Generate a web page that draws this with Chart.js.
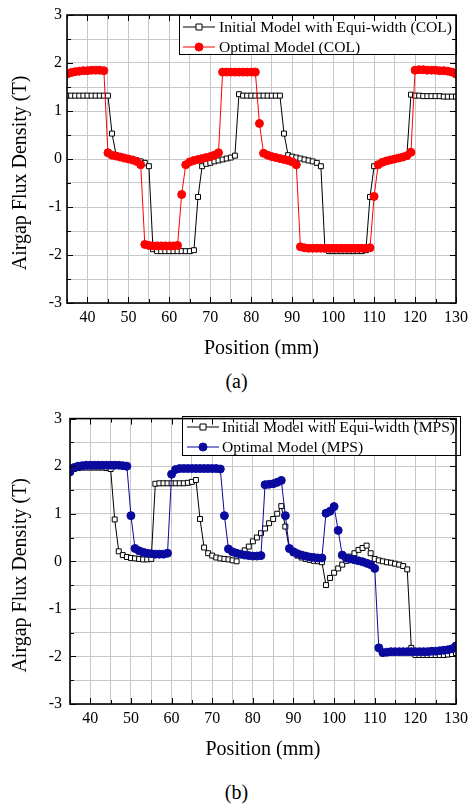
<!DOCTYPE html>
<html>
<head>
<meta charset="utf-8">
<script src="https://cdn.jsdelivr.net/npm/chart.js@4.4.1/dist/chart.umd.min.js"></script>
<style>
  html, body { margin: 0; padding: 0; background: #fff; }
  #wrap { position: relative; width: 473px; height: 805px; overflow: hidden; background: #fff; }
  canvas { position: absolute; left: 0; }
  #chartCOL { top: 0; }
  #chartMPS { top: 401px; }
  .cap { position: absolute; left: 0; width: 473px; text-align: center;
         font: 20px "Liberation Serif", "Times New Roman", serif; line-height: 24px; color: #000; }
  #capA { top: 369px; }
  #capB { top: 780px; }
</style>
</head>
<body>
<div id="wrap">
  <canvas id="chartCOL" width="473" height="363"></canvas>
  <canvas id="chartMPS" width="473" height="363"></canvas>
  <div class="cap" id="capA">(a)</div>
  <div class="cap" id="capB">(b)</div>
</div>
<script>
// Sample positions along the airgap (mm)
const positions = [35,36,37,38,39,40,41,42,43,44,45,46,47,48,49,50,51,52,53,54,55,56,57,58,59,60,
  61,62,63,64,65,66,67,68,69,70,71,72,73,74,75,76,77,78,79,80,81,82,83,84,85,86,87,88,89,90,
  91,92,93,94,95,96,97,98,99,100,101,102,103,104,105,106,107,108,109,110,111,112,113,114,115,
  116,117,118,119,120,121,122,123,124,125,126,127,128,129,130];

// Axis tick values
const xTicks = [40,50,60,70,80,90,100,110,120,130];
const yTicks = [-3,-2,-1,0,1,2,3];

// (a) COL magnetisation: flux density (T)
const initialCOL = [
  1.32,1.32,1.32,1.32,1.32,1.32,1.32,1.32,1.32,1.32,1.32,
  0.53,0.08,
  0.05,0.03,0.01,-0.01,-0.03,-0.05,-0.08,-0.15,
  -1.88,-1.92,-1.92,-1.92,-1.92,-1.92,-1.92,-1.92,-1.92,-1.92,-1.90,
  -0.79,-0.15,
  -0.10,-0.08,-0.05,-0.03,-0.01,0.01,0.03,0.07,
  1.35,1.32,1.32,1.32,1.32,1.32,1.32,1.32,1.32,1.32,1.32,
  0.53,0.08,
  0.05,0.03,0.01,-0.01,-0.03,-0.05,-0.08,-0.15,
  -1.88,-1.92,-1.92,-1.92,-1.92,-1.92,-1.92,-1.92,-1.92,-1.92,-1.90,
  -0.79,-0.15,
  -0.10,-0.08,-0.05,-0.03,-0.01,0.01,0.03,0.07,
  1.34,1.32,1.32,1.31,1.31,1.31,1.31,1.31,1.30,1.30,1.30,1.30
];
const optimalCOL = [
  1.77,1.80,1.82,1.83,1.84,1.84,1.85,1.85,1.85,1.84,
  0.13,0.08,0.06,0.04,0.02,0.00,-0.02,-0.05,-0.12,
  -1.78,-1.80,-1.81,-1.81,-1.81,-1.81,-1.81,-1.81,-1.80,
  -0.74,
  -0.12,-0.06,-0.03,-0.01,0.01,0.03,0.05,0.08,0.13,
  1.81,1.81,1.81,1.81,1.81,1.81,1.81,1.81,1.81,
  0.74,
  0.12,0.08,0.05,0.03,0.01,-0.01,-0.03,-0.06,-0.12,
  -1.83,-1.85,-1.86,-1.86,-1.86,-1.86,-1.86,-1.86,-1.86,-1.86,-1.86,-1.86,-1.86,-1.86,-1.86,-1.86,-1.86,-1.85,
  -0.78,
  -0.12,-0.07,-0.04,-0.02,0.00,0.02,0.04,0.07,0.14,
  1.85,1.86,1.86,1.85,1.85,1.85,1.84,1.84,1.83,1.81,1.77
];

// (b) MPS magnetisation: flux density (T)
const initialMPS = [
  1.88,1.94,1.96,1.97,1.97,1.97,1.97,1.97,1.97,1.96,1.94,
  0.88,
  0.21,0.13,0.09,0.07,0.06,0.05,0.04,0.04,0.05,
  1.63,1.64,1.64,1.64,1.64,1.64,1.64,1.64,1.65,1.67,1.71,
  0.89,
  0.29,0.17,0.12,0.08,0.06,0.05,0.04,0.02,0.00,
  0.13,0.23,0.31,0.42,0.50,0.59,0.69,0.80,0.89,1.00,1.16,
  0.73,
  0.25,0.17,0.12,0.08,0.05,0.03,0.01,0.00,-0.02,
  -0.50,-0.35,-0.24,-0.15,-0.07,0.01,0.10,0.17,0.24,0.28,0.33,
  0.17,
  0.05,0.02,0.00,-0.02,-0.03,-0.05,-0.07,-0.10,-0.17,
  -1.82,
  -1.97,-1.97,-1.97,-1.97,-1.97,-1.97,-1.97,-1.97,-1.96,-1.95,-1.93
];
const optimalMPS = [
  1.88,1.97,2.00,2.01,2.02,2.02,2.02,2.02,2.02,2.02,2.02,2.02,2.02,2.01,2.00,
  0.96,
  0.27,0.22,0.19,0.17,0.16,0.15,0.15,0.15,0.17,
  1.83,
  1.93,1.95,1.95,1.95,1.95,1.95,1.95,1.95,1.95,1.95,1.95,1.94,
  0.96,
  0.26,0.20,0.17,0.15,0.13,0.12,0.11,0.11,0.12,
  1.61,1.62,1.63,1.66,1.70,
  0.96,
  0.27,0.20,0.16,0.13,0.11,0.09,0.08,0.07,0.07,
  1.01,1.05,1.15,
  0.65,
  0.13,0.07,0.05,0.03,0.01,-0.01,-0.04,-0.07,-0.15,
  -1.82,-1.92,-1.91,-1.90,-1.90,-1.90,-1.90,-1.90,-1.90,-1.90,-1.90,-1.90,-1.90,-1.89,-1.89,-1.88,-1.87,-1.86,-1.84,-1.78
];

const seriesNames = {
  initialCOL: 'Initial Model with Equi-width (COL)',
  optimalCOL: 'Optimal Model (COL)',
  initialMPS: 'Initial Model with Equi-width (MPS)',
  optimalMPS: 'Optimal Model (MPS)'
};
const xTitle = 'Position (mm)';
const yTitle = 'Airgap Flux Density (T)';

const SERIF = '"Liberation Serif", "Times New Roman", serif';
Chart.defaults.font.family = SERIF;
Chart.defaults.color = '#000';

const toPoints = vals => positions.map((p, i) => ({ x: p, y: vals[i] }));

// draw a legend marker (square or disc)
function drawMarker(ctx, style, x, y, fill, stroke) {
  ctx.save();
  ctx.lineWidth = 1;
  ctx.fillStyle = fill;
  ctx.strokeStyle = stroke;
  ctx.beginPath();
  if (style === 'rect') {
    ctx.rect(x - 3, y - 3, 6, 6);
  } else {
    ctx.arc(x, y, 4, 0, Math.PI * 2);
  }
  ctx.fill();
  ctx.stroke();
  ctx.restore();
}

// Boxed legend inside the plot, with line + marker samples
const seriesKey = {
  id: 'seriesKey',
  afterDatasetsDraw(chart, args, opts) {
    const ctx = chart.ctx;
    const [l, t, r, b] = opts.box;
    ctx.save();
    ctx.fillStyle = '#fff';
    ctx.fillRect(l, t, r - l, b - t);
    ctx.strokeStyle = '#000';
    ctx.lineWidth = 1;
    ctx.strokeRect(l + 0.5, t + 0.5, r - l - 1, b - t - 1);
    ctx.font = '15.6px ' + SERIF;
    ctx.textBaseline = 'middle';
    ctx.textAlign = 'left';
    chart.data.datasets.forEach((ds, i) => {
      const y = opts.rows[i];
      ctx.strokeStyle = ds.borderColor;
      ctx.lineWidth = 1;
      ctx.beginPath();
      ctx.moveTo(opts.lineX[0], y);
      ctx.lineTo(opts.lineX[1], y);
      ctx.stroke();
      drawMarker(ctx, ds.pointStyle, (opts.lineX[0] + opts.lineX[1]) / 2, y,
                 ds.pointBackgroundColor, ds.pointBorderColor);
      ctx.fillStyle = '#000';
      ctx.fillText(ds.label, opts.textX, y + 1);
    });
    ctx.restore();
  }
};

// Plot frame with inward ticks on all four sides
const frame = {
  id: 'frame',
  afterDatasetsDraw(chart) {
    const { ctx, chartArea: a, scales: { x, y } } = chart;
    ctx.save();
    ctx.strokeStyle = '#000';
    ctx.lineWidth = 1;
    ctx.beginPath();
    x.ticks.forEach(tk => {
      const px = Math.round(x.getPixelForValue(tk.value)) + 0.5;
      const len = xTicks.includes(tk.value) ? 6 : 4;
      ctx.moveTo(px, a.bottom); ctx.lineTo(px, a.bottom - len);
      ctx.moveTo(px, a.top); ctx.lineTo(px, a.top + len);
    });
    y.ticks.forEach(tk => {
      const py = Math.round(y.getPixelForValue(tk.value)) + 0.5;
      const len = yTicks.includes(tk.value) ? 6 : 4;
      ctx.moveTo(a.left, py); ctx.lineTo(a.left + len, py);
      ctx.moveTo(a.right, py); ctx.lineTo(a.right - len, py);
    });
    ctx.stroke();
    ctx.lineWidth = 1.6;
    ctx.strokeRect(a.left, a.top, a.right - a.left, a.bottom - a.top);
    ctx.restore();
  }
};

// Vertical axis title, placed slightly below the plot centre
const yAxisTitle = {
  id: 'yAxisTitle',
  afterDraw(chart, args, opts) {
    const { ctx, chartArea: a } = chart;
    ctx.save();
    ctx.translate(opts.x, (a.top + a.bottom) / 2 + opts.shift);
    ctx.rotate(-Math.PI / 2);
    ctx.font = '20px ' + SERIF;
    ctx.fillStyle = '#000';
    ctx.textAlign = 'center';
    ctx.textBaseline = 'middle';
    ctx.fillText(chart.options.scales.y.title.text, 0, 0);
    ctx.restore();
  }
};

function buildChart(canvasId, cfg) {
  return new Chart(document.getElementById(canvasId), {
    type: 'line',
    data: {
      datasets: [
        {
          label: cfg.initialLabel,
          data: toPoints(cfg.initial),
          borderColor: '#000',
          borderWidth: 1,
          pointStyle: 'rect',
          pointRadius: 3.5,
          pointBackgroundColor: '#fff',
          pointBorderColor: '#000',
          pointBorderWidth: 1,
          tension: 0,
          order: 2
        },
        {
          label: cfg.optimalLabel,
          data: toPoints(cfg.optimal),
          borderColor: cfg.color,
          borderWidth: 1,
          pointStyle: 'circle',
          pointRadius: 4,
          pointBackgroundColor: cfg.color,
          pointBorderColor: cfg.color,
          pointBorderWidth: 1,
          tension: 0,
          order: 1
        }
      ]
    },
    options: {
      responsive: false,
      animation: false,
      devicePixelRatio: 1,
      layout: { padding: { left: 0, right: 13, top: 15, bottom: 0 } },
      plugins: {
        legend: { display: false },
        tooltip: { enabled: false },
        seriesKey: cfg.key,
        yAxisTitle: { x: 20.5, shift: 14 }
      },
      scales: {
        x: {
          type: 'linear',
          min: 35,
          max: 130,
          afterFit: s => { s.height = 60; },
          ticks: {
            stepSize: 5,
            autoSkip: false,
            maxRotation: 0,
            padding: 5,
            font: { size: 16 },
            color: '#000',
            callback: v => (xTicks.includes(v) ? String(v) : '')
          },
          grid: { color: '#c8c8c8', lineWidth: 1, drawTicks: false },
          border: { display: false },
          title: {
            display: true,
            text: xTitle,
            font: { size: 20 },
            color: '#000',
            padding: { top: 0, bottom: 2 }
          }
        },
        y: {
          type: 'linear',
          min: -3,
          max: 3,
          afterFit: s => { s.width = cfg.yWidth; },
          ticks: {
            stepSize: 0.5,
            autoSkip: false,
            padding: cfg.yPad,
            font: { size: 16 },
            color: '#000',
            callback: v => (yTicks.includes(v) ? String(v) : '')
          },
          grid: { color: '#c8c8c8', lineWidth: 1, drawTicks: false },
          border: { display: false },
          title: { display: false, text: yTitle }
        }
      }
    },
    plugins: [seriesKey, frame, yAxisTitle]
  });
}

buildChart('chartCOL', {
  initial: initialCOL,
  optimal: optimalCOL,
  initialLabel: seriesNames.initialCOL,
  optimalLabel: seriesNames.optimalCOL,
  color: '#ff0000',
  yWidth: 67,
  yPad: 5,
  key: { box: [179, 15, 457, 55], rows: [27, 47], lineX: [183, 215], textX: 219 }
});

buildChart('chartMPS', {
  initial: initialMPS,
  optimal: optimalMPS,
  initialLabel: seriesNames.initialMPS,
  optimalLabel: seriesNames.optimalMPS,
  color: '#0a0a9e',
  yWidth: 70,
  yPad: 8,
  key: { box: [182, 15, 461, 55], rows: [26, 46], lineX: [187, 219], textX: 222 }
});
</script>
</body>
</html>
